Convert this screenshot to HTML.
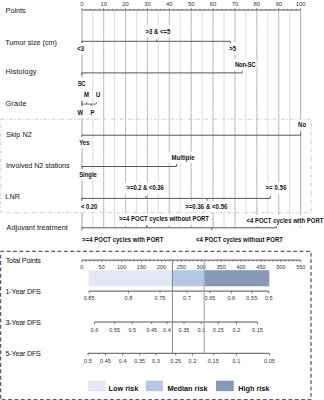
<!DOCTYPE html>
<html><head><meta charset="utf-8"><style>
html,body{margin:0;padding:0;background:#fff;width:324px;height:400px;overflow:hidden}
svg{display:block}
text{font-family:"Liberation Sans", sans-serif}
</style></head><body>
<svg width="324" height="400" viewBox="0 0 324 400">
<line x1="82.0" y1="10.5" x2="82.0" y2="227.5" stroke="#c2c6d0" stroke-width="1.6"/>
<line x1="92.74" y1="10.5" x2="92.74" y2="227.5" stroke="#dcdfe8" stroke-width="1.1"/>
<line x1="103.68" y1="10.5" x2="103.68" y2="227.5" stroke="#d2d5dd" stroke-width="1.1"/>
<line x1="103.68" y1="10.5" x2="103.68" y2="227.5" stroke="#b0b4be" stroke-width="1.0" stroke-dasharray="1.3 1.2"/>
<line x1="114.62" y1="10.5" x2="114.62" y2="227.5" stroke="#dcdfe8" stroke-width="1.1"/>
<line x1="125.56" y1="10.5" x2="125.56" y2="227.5" stroke="#d2d5dd" stroke-width="1.1"/>
<line x1="125.56" y1="10.5" x2="125.56" y2="227.5" stroke="#b0b4be" stroke-width="1.0" stroke-dasharray="1.3 1.2"/>
<line x1="136.5" y1="10.5" x2="136.5" y2="227.5" stroke="#dcdfe8" stroke-width="1.1"/>
<line x1="147.44" y1="10.5" x2="147.44" y2="227.5" stroke="#d2d5dd" stroke-width="1.1"/>
<line x1="147.44" y1="10.5" x2="147.44" y2="227.5" stroke="#b0b4be" stroke-width="1.0" stroke-dasharray="1.3 1.2"/>
<line x1="158.38" y1="10.5" x2="158.38" y2="227.5" stroke="#dcdfe8" stroke-width="1.1"/>
<line x1="169.32" y1="10.5" x2="169.32" y2="227.5" stroke="#d2d5dd" stroke-width="1.1"/>
<line x1="169.32" y1="10.5" x2="169.32" y2="227.5" stroke="#b0b4be" stroke-width="1.0" stroke-dasharray="1.3 1.2"/>
<line x1="180.26" y1="10.5" x2="180.26" y2="227.5" stroke="#dcdfe8" stroke-width="1.1"/>
<line x1="191.2" y1="10.5" x2="191.2" y2="227.5" stroke="#d2d5dd" stroke-width="1.1"/>
<line x1="191.2" y1="10.5" x2="191.2" y2="227.5" stroke="#b0b4be" stroke-width="1.0" stroke-dasharray="1.3 1.2"/>
<line x1="202.14" y1="10.5" x2="202.14" y2="227.5" stroke="#dcdfe8" stroke-width="1.1"/>
<line x1="213.08" y1="10.5" x2="213.08" y2="227.5" stroke="#d2d5dd" stroke-width="1.1"/>
<line x1="213.08" y1="10.5" x2="213.08" y2="227.5" stroke="#b0b4be" stroke-width="1.0" stroke-dasharray="1.3 1.2"/>
<line x1="224.02" y1="10.5" x2="224.02" y2="227.5" stroke="#dcdfe8" stroke-width="1.1"/>
<line x1="234.96" y1="10.5" x2="234.96" y2="227.5" stroke="#d2d5dd" stroke-width="1.1"/>
<line x1="234.96" y1="10.5" x2="234.96" y2="227.5" stroke="#b0b4be" stroke-width="1.0" stroke-dasharray="1.3 1.2"/>
<line x1="245.9" y1="10.5" x2="245.9" y2="227.5" stroke="#dcdfe8" stroke-width="1.1"/>
<line x1="256.84" y1="10.5" x2="256.84" y2="227.5" stroke="#d2d5dd" stroke-width="1.1"/>
<line x1="256.84" y1="10.5" x2="256.84" y2="227.5" stroke="#b0b4be" stroke-width="1.0" stroke-dasharray="1.3 1.2"/>
<line x1="267.78" y1="10.5" x2="267.78" y2="227.5" stroke="#dcdfe8" stroke-width="1.1"/>
<line x1="278.72" y1="10.5" x2="278.72" y2="227.5" stroke="#d2d5dd" stroke-width="1.1"/>
<line x1="278.72" y1="10.5" x2="278.72" y2="227.5" stroke="#b0b4be" stroke-width="1.0" stroke-dasharray="1.3 1.2"/>
<line x1="289.66" y1="10.5" x2="289.66" y2="227.5" stroke="#dcdfe8" stroke-width="1.1"/>
<line x1="300.6" y1="10.5" x2="300.6" y2="227.5" stroke="#b8bcc6" stroke-width="1.3"/>
<text transform="translate(5.60 13.00) scale(1 1.07)" font-size="7.2" fill="#1e1e1e" stroke="#1e1e1e" stroke-width="0.05">Points</text>
<text transform="translate(5.20 44.80) scale(1 1.07)" font-size="7.2" textLength="51.8" lengthAdjust="spacing" fill="#1e1e1e" stroke="#1e1e1e" stroke-width="0.05">Tumor size (cm)</text>
<text transform="translate(5.60 74.20) scale(1 1.07)" font-size="7.2" textLength="30.8" lengthAdjust="spacing" fill="#1e1e1e" stroke="#1e1e1e" stroke-width="0.05">Histology</text>
<text transform="translate(5.50 106.40) scale(1 1.07)" font-size="7.2" textLength="20.9" lengthAdjust="spacing" fill="#1e1e1e" stroke="#1e1e1e" stroke-width="0.05">Grade</text>
<text transform="translate(6.00 137.00) scale(1 1.07)" font-size="7.2" textLength="25.8" lengthAdjust="spacing" fill="#1e1e1e" stroke="#1e1e1e" stroke-width="0.05">Skip N2</text>
<text transform="translate(6.00 168.40) scale(1 1.07)" font-size="7.2" textLength="63.6" lengthAdjust="spacing" fill="#1e1e1e" stroke="#1e1e1e" stroke-width="0.05">Involved N2 stations</text>
<text transform="translate(5.30 199.10) scale(1 1.07)" font-size="7.2" textLength="14.6" lengthAdjust="spacing" fill="#1e1e1e" stroke="#1e1e1e" stroke-width="0.05">LNR</text>
<text transform="translate(6.60 230.10) scale(1 1.07)" font-size="7.2" textLength="61.2" lengthAdjust="spacing" fill="#1e1e1e" stroke="#1e1e1e" stroke-width="0.05">Adjuvant treatment</text>
<text transform="translate(5.70 262.60) scale(1 1.07)" font-size="7.2" textLength="35.2" lengthAdjust="spacing" fill="#1e1e1e" stroke="#1e1e1e" stroke-width="0.05">Total Points</text>
<text transform="translate(5.50 293.70) scale(1 1.07)" font-size="7.2" textLength="35.4" lengthAdjust="spacing" fill="#1e1e1e" stroke="#1e1e1e" stroke-width="0.05">1-Year DFS</text>
<text transform="translate(5.50 325.10) scale(1 1.07)" font-size="7.2" textLength="35.4" lengthAdjust="spacing" fill="#1e1e1e" stroke="#1e1e1e" stroke-width="0.05">3-Year DFS</text>
<text transform="translate(5.50 356.20) scale(1 1.07)" font-size="7.2" textLength="35.4" lengthAdjust="spacing" fill="#1e1e1e" stroke="#1e1e1e" stroke-width="0.05">5-Year DFS</text>
<line x1="81.80" y1="10.0" x2="300.60" y2="10.0" stroke="#555555" stroke-width="1"/>
<line x1="81.80" y1="10.0" x2="81.80" y2="7.8" stroke="#555555" stroke-width="0.7"/>
<line x1="86.18" y1="10.0" x2="86.18" y2="8.8" stroke="#555555" stroke-width="0.7"/>
<line x1="90.55" y1="10.0" x2="90.55" y2="8.8" stroke="#555555" stroke-width="0.7"/>
<line x1="94.93" y1="10.0" x2="94.93" y2="8.8" stroke="#555555" stroke-width="0.7"/>
<line x1="99.30" y1="10.0" x2="99.30" y2="8.8" stroke="#555555" stroke-width="0.7"/>
<line x1="103.68" y1="10.0" x2="103.68" y2="7.8" stroke="#555555" stroke-width="0.7"/>
<line x1="108.06" y1="10.0" x2="108.06" y2="8.8" stroke="#555555" stroke-width="0.7"/>
<line x1="112.43" y1="10.0" x2="112.43" y2="8.8" stroke="#555555" stroke-width="0.7"/>
<line x1="116.81" y1="10.0" x2="116.81" y2="8.8" stroke="#555555" stroke-width="0.7"/>
<line x1="121.18" y1="10.0" x2="121.18" y2="8.8" stroke="#555555" stroke-width="0.7"/>
<line x1="125.56" y1="10.0" x2="125.56" y2="7.8" stroke="#555555" stroke-width="0.7"/>
<line x1="129.94" y1="10.0" x2="129.94" y2="8.8" stroke="#555555" stroke-width="0.7"/>
<line x1="134.31" y1="10.0" x2="134.31" y2="8.8" stroke="#555555" stroke-width="0.7"/>
<line x1="138.69" y1="10.0" x2="138.69" y2="8.8" stroke="#555555" stroke-width="0.7"/>
<line x1="143.06" y1="10.0" x2="143.06" y2="8.8" stroke="#555555" stroke-width="0.7"/>
<line x1="147.44" y1="10.0" x2="147.44" y2="7.8" stroke="#555555" stroke-width="0.7"/>
<line x1="151.82" y1="10.0" x2="151.82" y2="8.8" stroke="#555555" stroke-width="0.7"/>
<line x1="156.19" y1="10.0" x2="156.19" y2="8.8" stroke="#555555" stroke-width="0.7"/>
<line x1="160.57" y1="10.0" x2="160.57" y2="8.8" stroke="#555555" stroke-width="0.7"/>
<line x1="164.94" y1="10.0" x2="164.94" y2="8.8" stroke="#555555" stroke-width="0.7"/>
<line x1="169.32" y1="10.0" x2="169.32" y2="7.8" stroke="#555555" stroke-width="0.7"/>
<line x1="173.70" y1="10.0" x2="173.70" y2="8.8" stroke="#555555" stroke-width="0.7"/>
<line x1="178.07" y1="10.0" x2="178.07" y2="8.8" stroke="#555555" stroke-width="0.7"/>
<line x1="182.45" y1="10.0" x2="182.45" y2="8.8" stroke="#555555" stroke-width="0.7"/>
<line x1="186.82" y1="10.0" x2="186.82" y2="8.8" stroke="#555555" stroke-width="0.7"/>
<line x1="191.20" y1="10.0" x2="191.20" y2="7.8" stroke="#555555" stroke-width="0.7"/>
<line x1="195.58" y1="10.0" x2="195.58" y2="8.8" stroke="#555555" stroke-width="0.7"/>
<line x1="199.95" y1="10.0" x2="199.95" y2="8.8" stroke="#555555" stroke-width="0.7"/>
<line x1="204.33" y1="10.0" x2="204.33" y2="8.8" stroke="#555555" stroke-width="0.7"/>
<line x1="208.70" y1="10.0" x2="208.70" y2="8.8" stroke="#555555" stroke-width="0.7"/>
<line x1="213.08" y1="10.0" x2="213.08" y2="7.8" stroke="#555555" stroke-width="0.7"/>
<line x1="217.46" y1="10.0" x2="217.46" y2="8.8" stroke="#555555" stroke-width="0.7"/>
<line x1="221.83" y1="10.0" x2="221.83" y2="8.8" stroke="#555555" stroke-width="0.7"/>
<line x1="226.21" y1="10.0" x2="226.21" y2="8.8" stroke="#555555" stroke-width="0.7"/>
<line x1="230.58" y1="10.0" x2="230.58" y2="8.8" stroke="#555555" stroke-width="0.7"/>
<line x1="234.96" y1="10.0" x2="234.96" y2="7.8" stroke="#555555" stroke-width="0.7"/>
<line x1="239.34" y1="10.0" x2="239.34" y2="8.8" stroke="#555555" stroke-width="0.7"/>
<line x1="243.71" y1="10.0" x2="243.71" y2="8.8" stroke="#555555" stroke-width="0.7"/>
<line x1="248.09" y1="10.0" x2="248.09" y2="8.8" stroke="#555555" stroke-width="0.7"/>
<line x1="252.46" y1="10.0" x2="252.46" y2="8.8" stroke="#555555" stroke-width="0.7"/>
<line x1="256.84" y1="10.0" x2="256.84" y2="7.8" stroke="#555555" stroke-width="0.7"/>
<line x1="261.22" y1="10.0" x2="261.22" y2="8.8" stroke="#555555" stroke-width="0.7"/>
<line x1="265.59" y1="10.0" x2="265.59" y2="8.8" stroke="#555555" stroke-width="0.7"/>
<line x1="269.97" y1="10.0" x2="269.97" y2="8.8" stroke="#555555" stroke-width="0.7"/>
<line x1="274.34" y1="10.0" x2="274.34" y2="8.8" stroke="#555555" stroke-width="0.7"/>
<line x1="278.72" y1="10.0" x2="278.72" y2="7.8" stroke="#555555" stroke-width="0.7"/>
<line x1="283.10" y1="10.0" x2="283.10" y2="8.8" stroke="#555555" stroke-width="0.7"/>
<line x1="287.47" y1="10.0" x2="287.47" y2="8.8" stroke="#555555" stroke-width="0.7"/>
<line x1="291.85" y1="10.0" x2="291.85" y2="8.8" stroke="#555555" stroke-width="0.7"/>
<line x1="296.22" y1="10.0" x2="296.22" y2="8.8" stroke="#555555" stroke-width="0.7"/>
<line x1="300.60" y1="10.0" x2="300.60" y2="7.8" stroke="#555555" stroke-width="0.7"/>
<text x="81.80" y="5.70" font-size="5.9" text-anchor="middle" fill="#333">0</text>
<text x="103.68" y="5.70" font-size="5.9" text-anchor="middle" fill="#333">10</text>
<text x="125.56" y="5.70" font-size="5.9" text-anchor="middle" fill="#333">20</text>
<text x="147.44" y="5.70" font-size="5.9" text-anchor="middle" fill="#333">30</text>
<text x="169.32" y="5.70" font-size="5.9" text-anchor="middle" fill="#333">40</text>
<text x="191.20" y="5.70" font-size="5.9" text-anchor="middle" fill="#333">50</text>
<text x="213.08" y="5.70" font-size="5.9" text-anchor="middle" fill="#333">60</text>
<text x="234.96" y="5.70" font-size="5.9" text-anchor="middle" fill="#333">70</text>
<text x="256.84" y="5.70" font-size="5.9" text-anchor="middle" fill="#333">80</text>
<text x="278.72" y="5.70" font-size="5.9" text-anchor="middle" fill="#333">90</text>
<text x="300.60" y="5.70" font-size="5.9" text-anchor="middle" fill="#333">100</text>
<line x1="81.80" y1="41.3" x2="230.58" y2="41.3" stroke="#555555" stroke-width="1"/>
<line x1="81.80" y1="41.3" x2="81.80" y2="43.3" stroke="#555555" stroke-width="0.9"/>
<line x1="156.63" y1="41.3" x2="156.63" y2="39.3" stroke="#555555" stroke-width="0.9"/>
<line x1="230.58" y1="41.3" x2="230.58" y2="43.3" stroke="#555555" stroke-width="0.9"/>
<line x1="81.80" y1="72.9" x2="242.18" y2="72.9" stroke="#555555" stroke-width="1"/>
<line x1="81.80" y1="72.9" x2="81.80" y2="75.4" stroke="#555555" stroke-width="0.9"/>
<line x1="242.18" y1="72.9" x2="242.18" y2="70.4" stroke="#555555" stroke-width="0.9"/>
<line x1="81.80" y1="104.1" x2="96.24" y2="104.1" stroke="#555555" stroke-width="0.8"/>
<line x1="81.80" y1="104.1" x2="81.80" y2="101.1" stroke="#555555" stroke-width="0.8"/>
<line x1="86.83" y1="104.1" x2="86.83" y2="101.89999999999999" stroke="#555555" stroke-width="0.8"/>
<line x1="90.99" y1="104.1" x2="90.99" y2="106.3" stroke="#555555" stroke-width="0.8"/>
<line x1="96.24" y1="104.1" x2="96.24" y2="101.89999999999999" stroke="#555555" stroke-width="0.8"/>
<line x1="81.80" y1="104.1" x2="81.80" y2="105.6" stroke="#555555" stroke-width="0.8"/>
<line x1="81.80" y1="135.2" x2="300.60" y2="135.2" stroke="#555555" stroke-width="1"/>
<line x1="81.80" y1="135.2" x2="81.80" y2="137.7" stroke="#555555" stroke-width="0.9"/>
<line x1="300.60" y1="135.2" x2="300.60" y2="132.7" stroke="#555555" stroke-width="0.9"/>
<line x1="81.80" y1="166.5" x2="176.54" y2="166.5" stroke="#555555" stroke-width="1"/>
<line x1="81.80" y1="166.5" x2="81.80" y2="169.0" stroke="#555555" stroke-width="0.9"/>
<line x1="176.54" y1="166.5" x2="176.54" y2="164.0" stroke="#555555" stroke-width="0.9"/>
<line x1="81.80" y1="198.4" x2="270.41" y2="198.4" stroke="#555555" stroke-width="1"/>
<line x1="81.80" y1="198.4" x2="81.80" y2="200.9" stroke="#555555" stroke-width="0.9"/>
<line x1="145.91" y1="198.4" x2="145.91" y2="195.9" stroke="#555555" stroke-width="0.9"/>
<line x1="207.17" y1="198.4" x2="207.17" y2="200.9" stroke="#555555" stroke-width="0.9"/>
<line x1="270.41" y1="198.4" x2="270.41" y2="195.9" stroke="#555555" stroke-width="0.9"/>
<line x1="81.80" y1="227.8" x2="276.53" y2="227.8" stroke="#555555" stroke-width="1"/>
<line x1="81.80" y1="227.8" x2="81.80" y2="230.3" stroke="#555555" stroke-width="0.9"/>
<line x1="146.56" y1="227.8" x2="146.56" y2="225.3" stroke="#555555" stroke-width="0.9"/>
<line x1="211.77" y1="227.8" x2="211.77" y2="230.3" stroke="#555555" stroke-width="0.9"/>
<line x1="276.53" y1="227.8" x2="276.53" y2="225.3" stroke="#555555" stroke-width="0.9"/>
<rect x="74.30" y="43.20" width="11.14" height="11.40" fill="#fff"/>
<rect x="142.60" y="25.50" width="28.60" height="11.40" fill="#fff"/>
<rect x="226.30" y="43.10" width="11.14" height="11.40" fill="#fff"/>
<rect x="74.80" y="77.70" width="11.70" height="11.40" fill="#fff"/>
<rect x="232.00" y="59.00" width="24.50" height="11.40" fill="#fff"/>
<rect x="74.60" y="106.60" width="10.00" height="11.40" fill="#fff"/>
<rect x="80.90" y="88.80" width="9.10" height="11.40" fill="#fff"/>
<rect x="87.50" y="106.60" width="7.90" height="11.40" fill="#fff"/>
<rect x="92.90" y="88.80" width="8.30" height="11.40" fill="#fff"/>
<rect x="76.20" y="136.80" width="14.71" height="11.40" fill="#fff"/>
<rect x="295.10" y="118.70" width="11.14" height="11.40" fill="#fff"/>
<rect x="76.20" y="168.80" width="21.60" height="11.40" fill="#fff"/>
<rect x="168.50" y="151.80" width="27.00" height="11.40" fill="#fff"/>
<rect x="78.00" y="200.80" width="20.40" height="11.40" fill="#fff"/>
<rect x="123.60" y="182.30" width="41.20" height="11.40" fill="#fff"/>
<rect x="182.20" y="201.00" width="46.20" height="11.40" fill="#fff"/>
<rect x="262.50" y="182.30" width="25.00" height="11.40" fill="#fff"/>
<rect x="79.10" y="234.00" width="85.20" height="11.40" fill="#fff"/>
<rect x="116.10" y="213.40" width="93.90" height="11.40" fill="#fff"/>
<rect x="193.10" y="233.70" width="90.80" height="11.40" fill="#fff"/>
<rect x="243.40" y="214.80" width="81.00" height="11.40" fill="#fff"/>
<text transform="translate(77.30 51.20) scale(1 1.14)" font-size="5.95" font-weight="bold" fill="#111">&lt;3</text>
<text transform="translate(145.60 33.50) scale(1 1.14)" font-size="5.95" font-weight="bold" textLength="24.6" lengthAdjust="spacing" fill="#111">&gt;3 &amp; &lt;=5</text>
<text transform="translate(229.30 51.10) scale(1 1.14)" font-size="5.95" font-weight="bold" fill="#111">&gt;5</text>
<text transform="translate(77.80 85.70) scale(1 1.14)" font-size="5.95" font-weight="bold" textLength="7.7" lengthAdjust="spacing" fill="#111">SC</text>
<text transform="translate(235.00 67.00) scale(1 1.14)" font-size="5.95" font-weight="bold" textLength="20.5" lengthAdjust="spacing" fill="#111">Non-SC</text>
<text transform="translate(77.60 114.60) scale(1 1.14)" font-size="5.95" font-weight="bold" textLength="6.0" lengthAdjust="spacing" fill="#111">W</text>
<text transform="translate(83.90 96.80) scale(1 1.14)" font-size="5.95" font-weight="bold" textLength="5.1" lengthAdjust="spacing" fill="#111">M</text>
<text transform="translate(90.50 114.60) scale(1 1.14)" font-size="5.95" font-weight="bold" textLength="3.9" lengthAdjust="spacing" fill="#111">P</text>
<text transform="translate(95.90 96.80) scale(1 1.14)" font-size="5.95" font-weight="bold" textLength="4.3" lengthAdjust="spacing" fill="#111">U</text>
<text transform="translate(79.20 144.80) scale(1 1.14)" font-size="5.95" font-weight="bold" fill="#111">Yes</text>
<text transform="translate(298.10 126.70) scale(1 1.14)" font-size="5.95" font-weight="bold" fill="#111">No</text>
<text transform="translate(79.20 176.80) scale(1 1.14)" font-size="5.95" font-weight="bold" textLength="17.6" lengthAdjust="spacing" fill="#111">Single</text>
<text transform="translate(171.50 159.80) scale(1 1.14)" font-size="5.95" font-weight="bold" textLength="23.0" lengthAdjust="spacing" fill="#111">Multiple</text>
<text transform="translate(81.00 208.80) scale(1 1.14)" font-size="5.95" font-weight="bold" textLength="16.4" lengthAdjust="spacing" fill="#111">&lt; 0.20</text>
<text transform="translate(126.60 190.30) scale(1 1.14)" font-size="5.95" font-weight="bold" textLength="37.2" lengthAdjust="spacing" fill="#111">&gt;=0.2 &amp; &lt;0.36</text>
<text transform="translate(185.20 209.00) scale(1 1.14)" font-size="5.95" font-weight="bold" textLength="42.2" lengthAdjust="spacing" fill="#111">&gt;=0.36 &amp; &lt;0.56</text>
<text transform="translate(265.50 190.30) scale(1 1.14)" font-size="5.95" font-weight="bold" textLength="21.0" lengthAdjust="spacing" fill="#111">&gt;= 0.56</text>
<text transform="translate(82.10 242.00) scale(1 1.14)" font-size="5.95" font-weight="bold" textLength="81.2" lengthAdjust="spacing" fill="#111">&gt;=4 POCT cycles with PORT</text>
<text transform="translate(119.10 221.40) scale(1 1.14)" font-size="5.95" font-weight="bold" textLength="89.9" lengthAdjust="spacing" fill="#111">&gt;=4 POCT cycles without PORT</text>
<text transform="translate(196.10 241.70) scale(1 1.14)" font-size="5.95" font-weight="bold" textLength="86.8" lengthAdjust="spacing" fill="#111">&lt;4 POCT cycles without PORT</text>
<text transform="translate(246.40 222.80) scale(1 1.14)" font-size="5.95" font-weight="bold" textLength="77.0" lengthAdjust="spacing" fill="#111">&lt;4 POCT cycles with PORT</text>
<rect x="0.75" y="119.25" width="310.5" height="93.5" fill="none" stroke="#c6c6c6" stroke-width="0.9" stroke-dasharray="3.5 2 1 2"/>
<line x1="0.23" y1="251.3" x2="311.5" y2="251.3" stroke="#565d80" stroke-width="1.3" stroke-dasharray="3.9 2.47"/>
<line x1="0.6" y1="254.7" x2="0.6" y2="399" stroke="#565d80" stroke-width="1.3" stroke-dasharray="3.9 2.47"/>
<line x1="311" y1="252.8" x2="311" y2="399" stroke="#565d80" stroke-width="1.3" stroke-dasharray="3.9 2.47"/>
<line x1="1.7" y1="399.6" x2="311.5" y2="399.6" stroke="#565d80" stroke-width="1.4" stroke-dasharray="3.9 2.47"/>
<rect x="88.6" y="270.2" width="83.8" height="16.1" fill="#e4e8f6"/>
<rect x="172.4" y="270.2" width="31.8" height="16.1" fill="#b4c7e7"/>
<rect x="204.2" y="270.2" width="65.1" height="16.1" fill="#8798b8"/>
<line x1="81.80" y1="260.1" x2="300.80" y2="260.1" stroke="#555555" stroke-width="1"/>
<line x1="81.80" y1="260.1" x2="81.80" y2="262.1" stroke="#555555" stroke-width="0.75"/>
<line x1="85.78" y1="260.1" x2="85.78" y2="261.5" stroke="#555555" stroke-width="0.75"/>
<line x1="89.76" y1="260.1" x2="89.76" y2="261.5" stroke="#555555" stroke-width="0.75"/>
<line x1="93.75" y1="260.1" x2="93.75" y2="261.5" stroke="#555555" stroke-width="0.75"/>
<line x1="97.73" y1="260.1" x2="97.73" y2="261.5" stroke="#555555" stroke-width="0.75"/>
<line x1="101.71" y1="260.1" x2="101.71" y2="262.1" stroke="#555555" stroke-width="0.75"/>
<line x1="105.69" y1="260.1" x2="105.69" y2="261.5" stroke="#555555" stroke-width="0.75"/>
<line x1="109.67" y1="260.1" x2="109.67" y2="261.5" stroke="#555555" stroke-width="0.75"/>
<line x1="113.65" y1="260.1" x2="113.65" y2="261.5" stroke="#555555" stroke-width="0.75"/>
<line x1="117.64" y1="260.1" x2="117.64" y2="261.5" stroke="#555555" stroke-width="0.75"/>
<line x1="121.62" y1="260.1" x2="121.62" y2="262.1" stroke="#555555" stroke-width="0.75"/>
<line x1="125.60" y1="260.1" x2="125.60" y2="261.5" stroke="#555555" stroke-width="0.75"/>
<line x1="129.58" y1="260.1" x2="129.58" y2="261.5" stroke="#555555" stroke-width="0.75"/>
<line x1="133.56" y1="260.1" x2="133.56" y2="261.5" stroke="#555555" stroke-width="0.75"/>
<line x1="137.55" y1="260.1" x2="137.55" y2="261.5" stroke="#555555" stroke-width="0.75"/>
<line x1="141.53" y1="260.1" x2="141.53" y2="262.1" stroke="#555555" stroke-width="0.75"/>
<line x1="145.51" y1="260.1" x2="145.51" y2="261.5" stroke="#555555" stroke-width="0.75"/>
<line x1="149.49" y1="260.1" x2="149.49" y2="261.5" stroke="#555555" stroke-width="0.75"/>
<line x1="153.47" y1="260.1" x2="153.47" y2="261.5" stroke="#555555" stroke-width="0.75"/>
<line x1="157.45" y1="260.1" x2="157.45" y2="261.5" stroke="#555555" stroke-width="0.75"/>
<line x1="161.44" y1="260.1" x2="161.44" y2="262.1" stroke="#555555" stroke-width="0.75"/>
<line x1="165.42" y1="260.1" x2="165.42" y2="261.5" stroke="#555555" stroke-width="0.75"/>
<line x1="169.40" y1="260.1" x2="169.40" y2="261.5" stroke="#555555" stroke-width="0.75"/>
<line x1="173.38" y1="260.1" x2="173.38" y2="261.5" stroke="#555555" stroke-width="0.75"/>
<line x1="177.36" y1="260.1" x2="177.36" y2="261.5" stroke="#555555" stroke-width="0.75"/>
<line x1="181.35" y1="260.1" x2="181.35" y2="262.1" stroke="#555555" stroke-width="0.75"/>
<line x1="185.33" y1="260.1" x2="185.33" y2="261.5" stroke="#555555" stroke-width="0.75"/>
<line x1="189.31" y1="260.1" x2="189.31" y2="261.5" stroke="#555555" stroke-width="0.75"/>
<line x1="193.29" y1="260.1" x2="193.29" y2="261.5" stroke="#555555" stroke-width="0.75"/>
<line x1="197.27" y1="260.1" x2="197.27" y2="261.5" stroke="#555555" stroke-width="0.75"/>
<line x1="201.25" y1="260.1" x2="201.25" y2="262.1" stroke="#555555" stroke-width="0.75"/>
<line x1="205.24" y1="260.1" x2="205.24" y2="261.5" stroke="#555555" stroke-width="0.75"/>
<line x1="209.22" y1="260.1" x2="209.22" y2="261.5" stroke="#555555" stroke-width="0.75"/>
<line x1="213.20" y1="260.1" x2="213.20" y2="261.5" stroke="#555555" stroke-width="0.75"/>
<line x1="217.18" y1="260.1" x2="217.18" y2="261.5" stroke="#555555" stroke-width="0.75"/>
<line x1="221.16" y1="260.1" x2="221.16" y2="262.1" stroke="#555555" stroke-width="0.75"/>
<line x1="225.15" y1="260.1" x2="225.15" y2="261.5" stroke="#555555" stroke-width="0.75"/>
<line x1="229.13" y1="260.1" x2="229.13" y2="261.5" stroke="#555555" stroke-width="0.75"/>
<line x1="233.11" y1="260.1" x2="233.11" y2="261.5" stroke="#555555" stroke-width="0.75"/>
<line x1="237.09" y1="260.1" x2="237.09" y2="261.5" stroke="#555555" stroke-width="0.75"/>
<line x1="241.07" y1="260.1" x2="241.07" y2="262.1" stroke="#555555" stroke-width="0.75"/>
<line x1="245.05" y1="260.1" x2="245.05" y2="261.5" stroke="#555555" stroke-width="0.75"/>
<line x1="249.04" y1="260.1" x2="249.04" y2="261.5" stroke="#555555" stroke-width="0.75"/>
<line x1="253.02" y1="260.1" x2="253.02" y2="261.5" stroke="#555555" stroke-width="0.75"/>
<line x1="257.00" y1="260.1" x2="257.00" y2="261.5" stroke="#555555" stroke-width="0.75"/>
<line x1="260.98" y1="260.1" x2="260.98" y2="262.1" stroke="#555555" stroke-width="0.75"/>
<line x1="264.96" y1="260.1" x2="264.96" y2="261.5" stroke="#555555" stroke-width="0.75"/>
<line x1="268.95" y1="260.1" x2="268.95" y2="261.5" stroke="#555555" stroke-width="0.75"/>
<line x1="272.93" y1="260.1" x2="272.93" y2="261.5" stroke="#555555" stroke-width="0.75"/>
<line x1="276.91" y1="260.1" x2="276.91" y2="261.5" stroke="#555555" stroke-width="0.75"/>
<line x1="280.89" y1="260.1" x2="280.89" y2="262.1" stroke="#555555" stroke-width="0.75"/>
<line x1="284.87" y1="260.1" x2="284.87" y2="261.5" stroke="#555555" stroke-width="0.75"/>
<line x1="288.85" y1="260.1" x2="288.85" y2="261.5" stroke="#555555" stroke-width="0.75"/>
<line x1="292.84" y1="260.1" x2="292.84" y2="261.5" stroke="#555555" stroke-width="0.75"/>
<line x1="296.82" y1="260.1" x2="296.82" y2="261.5" stroke="#555555" stroke-width="0.75"/>
<line x1="300.80" y1="260.1" x2="300.80" y2="262.1" stroke="#555555" stroke-width="0.75"/>
<text transform="translate(81.80 268.90) scale(1 1.1)" font-size="5.6" text-anchor="middle" fill="#333">0</text>
<text transform="translate(101.71 268.90) scale(1 1.1)" font-size="5.6" text-anchor="middle" fill="#333">50</text>
<text transform="translate(121.62 268.90) scale(1 1.1)" font-size="5.6" text-anchor="middle" fill="#333">100</text>
<text transform="translate(141.53 268.90) scale(1 1.1)" font-size="5.6" text-anchor="middle" fill="#333">150</text>
<text transform="translate(161.44 268.90) scale(1 1.1)" font-size="5.6" text-anchor="middle" fill="#333">200</text>
<text transform="translate(181.35 268.90) scale(1 1.1)" font-size="5.6" text-anchor="middle" fill="#333">250</text>
<text transform="translate(201.25 268.90) scale(1 1.1)" font-size="5.6" text-anchor="middle" fill="#333">300</text>
<text transform="translate(221.16 268.90) scale(1 1.1)" font-size="5.6" text-anchor="middle" fill="#333">350</text>
<text transform="translate(241.07 268.90) scale(1 1.1)" font-size="5.6" text-anchor="middle" fill="#333">400</text>
<text transform="translate(260.98 268.90) scale(1 1.1)" font-size="5.6" text-anchor="middle" fill="#333">450</text>
<text transform="translate(280.89 268.90) scale(1 1.1)" font-size="5.6" text-anchor="middle" fill="#333">500</text>
<text transform="translate(300.80 268.90) scale(1 1.1)" font-size="5.6" text-anchor="middle" fill="#333">550</text>
<line x1="89.10" y1="291.1" x2="268.80" y2="291.1" stroke="#555555" stroke-width="1"/>
<line x1="89.10" y1="291.1" x2="89.10" y2="293.3" stroke="#555555" stroke-width="0.8"/>
<line x1="128.40" y1="291.1" x2="128.40" y2="293.3" stroke="#555555" stroke-width="0.8"/>
<line x1="160.00" y1="291.1" x2="160.00" y2="293.3" stroke="#555555" stroke-width="0.8"/>
<line x1="187.00" y1="291.1" x2="187.00" y2="293.3" stroke="#555555" stroke-width="0.8"/>
<line x1="210.00" y1="291.1" x2="210.00" y2="293.3" stroke="#555555" stroke-width="0.8"/>
<line x1="231.30" y1="291.1" x2="231.30" y2="293.3" stroke="#555555" stroke-width="0.8"/>
<line x1="251.80" y1="291.1" x2="251.80" y2="293.3" stroke="#555555" stroke-width="0.8"/>
<line x1="268.80" y1="291.1" x2="268.80" y2="293.3" stroke="#555555" stroke-width="0.8"/>
<text transform="translate(89.10 300.10) scale(1 1.1)" font-size="5.6" text-anchor="middle" fill="#333">0.85</text>
<text transform="translate(128.40 300.10) scale(1 1.1)" font-size="5.6" text-anchor="middle" fill="#333">0.8</text>
<text transform="translate(160.00 300.10) scale(1 1.1)" font-size="5.6" text-anchor="middle" fill="#333">0.75</text>
<text transform="translate(187.00 300.10) scale(1 1.1)" font-size="5.6" text-anchor="middle" fill="#333">0.7</text>
<text transform="translate(210.00 300.10) scale(1 1.1)" font-size="5.6" text-anchor="middle" fill="#333">0.65</text>
<text transform="translate(231.30 300.10) scale(1 1.1)" font-size="5.6" text-anchor="middle" fill="#333">0.6</text>
<text transform="translate(251.80 300.10) scale(1 1.1)" font-size="5.6" text-anchor="middle" fill="#333">0.55</text>
<text transform="translate(268.80 300.10) scale(1 1.1)" font-size="5.6" text-anchor="middle" fill="#333">0.5</text>
<line x1="94.50" y1="322.0" x2="257.50" y2="322.0" stroke="#555555" stroke-width="1"/>
<line x1="94.50" y1="322.0" x2="94.50" y2="324.2" stroke="#555555" stroke-width="0.8"/>
<line x1="114.70" y1="322.0" x2="114.70" y2="324.2" stroke="#555555" stroke-width="0.8"/>
<line x1="132.30" y1="322.0" x2="132.30" y2="324.2" stroke="#555555" stroke-width="0.8"/>
<line x1="151.70" y1="322.0" x2="151.70" y2="324.2" stroke="#555555" stroke-width="0.8"/>
<line x1="167.00" y1="322.0" x2="167.00" y2="324.2" stroke="#555555" stroke-width="0.8"/>
<line x1="184.00" y1="322.0" x2="184.00" y2="324.2" stroke="#555555" stroke-width="0.8"/>
<line x1="201.30" y1="322.0" x2="201.30" y2="324.2" stroke="#555555" stroke-width="0.8"/>
<line x1="218.30" y1="322.0" x2="218.30" y2="324.2" stroke="#555555" stroke-width="0.8"/>
<line x1="236.50" y1="322.0" x2="236.50" y2="324.2" stroke="#555555" stroke-width="0.8"/>
<line x1="257.50" y1="322.0" x2="257.50" y2="324.2" stroke="#555555" stroke-width="0.8"/>
<text transform="translate(94.50 331.80) scale(1 1.1)" font-size="5.6" text-anchor="middle" fill="#333">0.6</text>
<text transform="translate(114.70 331.80) scale(1 1.1)" font-size="5.6" text-anchor="middle" fill="#333">0.55</text>
<text transform="translate(132.30 331.80) scale(1 1.1)" font-size="5.6" text-anchor="middle" fill="#333">0.5</text>
<text transform="translate(151.70 331.80) scale(1 1.1)" font-size="5.6" text-anchor="middle" fill="#333">0.45</text>
<text transform="translate(167.00 331.80) scale(1 1.1)" font-size="5.6" text-anchor="middle" fill="#333">0.4</text>
<text transform="translate(184.00 331.80) scale(1 1.1)" font-size="5.6" text-anchor="middle" fill="#333">0.35</text>
<text transform="translate(201.30 331.80) scale(1 1.1)" font-size="5.6" text-anchor="middle" fill="#333">0.3</text>
<text transform="translate(218.30 331.80) scale(1 1.1)" font-size="5.6" text-anchor="middle" fill="#333">0.25</text>
<text transform="translate(236.50 331.80) scale(1 1.1)" font-size="5.6" text-anchor="middle" fill="#333">0.2</text>
<text transform="translate(257.50 331.80) scale(1 1.1)" font-size="5.6" text-anchor="middle" fill="#333">0.15</text>
<line x1="88.00" y1="353.3" x2="269.50" y2="353.3" stroke="#555555" stroke-width="1"/>
<line x1="88.00" y1="353.3" x2="88.00" y2="355.5" stroke="#555555" stroke-width="0.8"/>
<line x1="105.50" y1="353.3" x2="105.50" y2="355.5" stroke="#555555" stroke-width="0.8"/>
<line x1="122.70" y1="353.3" x2="122.70" y2="355.5" stroke="#555555" stroke-width="0.8"/>
<line x1="139.70" y1="353.3" x2="139.70" y2="355.5" stroke="#555555" stroke-width="0.8"/>
<line x1="156.00" y1="353.3" x2="156.00" y2="355.5" stroke="#555555" stroke-width="0.8"/>
<line x1="175.70" y1="353.3" x2="175.70" y2="355.5" stroke="#555555" stroke-width="0.8"/>
<line x1="192.50" y1="353.3" x2="192.50" y2="355.5" stroke="#555555" stroke-width="0.8"/>
<line x1="213.30" y1="353.3" x2="213.30" y2="355.5" stroke="#555555" stroke-width="0.8"/>
<line x1="236.40" y1="353.3" x2="236.40" y2="355.5" stroke="#555555" stroke-width="0.8"/>
<line x1="269.50" y1="353.3" x2="269.50" y2="355.5" stroke="#555555" stroke-width="0.8"/>
<text transform="translate(88.00 363.00) scale(1 1.1)" font-size="5.6" text-anchor="middle" fill="#333">0.5</text>
<text transform="translate(105.50 363.00) scale(1 1.1)" font-size="5.6" text-anchor="middle" fill="#333">0.45</text>
<text transform="translate(122.70 363.00) scale(1 1.1)" font-size="5.6" text-anchor="middle" fill="#333">0.4</text>
<text transform="translate(139.70 363.00) scale(1 1.1)" font-size="5.6" text-anchor="middle" fill="#333">0.35</text>
<text transform="translate(156.00 363.00) scale(1 1.1)" font-size="5.6" text-anchor="middle" fill="#333">0.3</text>
<text transform="translate(175.70 363.00) scale(1 1.1)" font-size="5.6" text-anchor="middle" fill="#333">0.25</text>
<text transform="translate(192.50 363.00) scale(1 1.1)" font-size="5.6" text-anchor="middle" fill="#333">0.2</text>
<text transform="translate(213.30 363.00) scale(1 1.1)" font-size="5.6" text-anchor="middle" fill="#333">0.15</text>
<text transform="translate(236.40 363.00) scale(1 1.1)" font-size="5.6" text-anchor="middle" fill="#333">0.1</text>
<text transform="translate(269.50 363.00) scale(1 1.1)" font-size="5.6" text-anchor="middle" fill="#333">0.05</text>
<line x1="172.4" y1="260.1" x2="172.4" y2="353.3" stroke="#858585" stroke-width="1"/>
<line x1="204.2" y1="260.1" x2="204.2" y2="353.3" stroke="#a9acb6" stroke-width="1.2"/>
<rect x="88.6" y="381.0" width="16.8" height="9.9" fill="#e4e8f6" stroke="#d6dbee" stroke-width="0.5"/>
<text x="108.60" y="390.60" font-size="7.3" font-weight="bold" fill="#111">Low risk</text>
<rect x="146.1" y="381.0" width="16.6" height="9.9" fill="#b4c7e7" stroke="#a5b8dc" stroke-width="0.5"/>
<text x="167.40" y="390.60" font-size="7.3" font-weight="bold" fill="#111">Median risk</text>
<rect x="216.2" y="381.0" width="17.2" height="9.9" fill="#8798b8" stroke="#7585a8" stroke-width="0.5"/>
<text x="238.20" y="390.60" font-size="7.3" font-weight="bold" fill="#111">High risk</text>
</svg>
</body></html>
